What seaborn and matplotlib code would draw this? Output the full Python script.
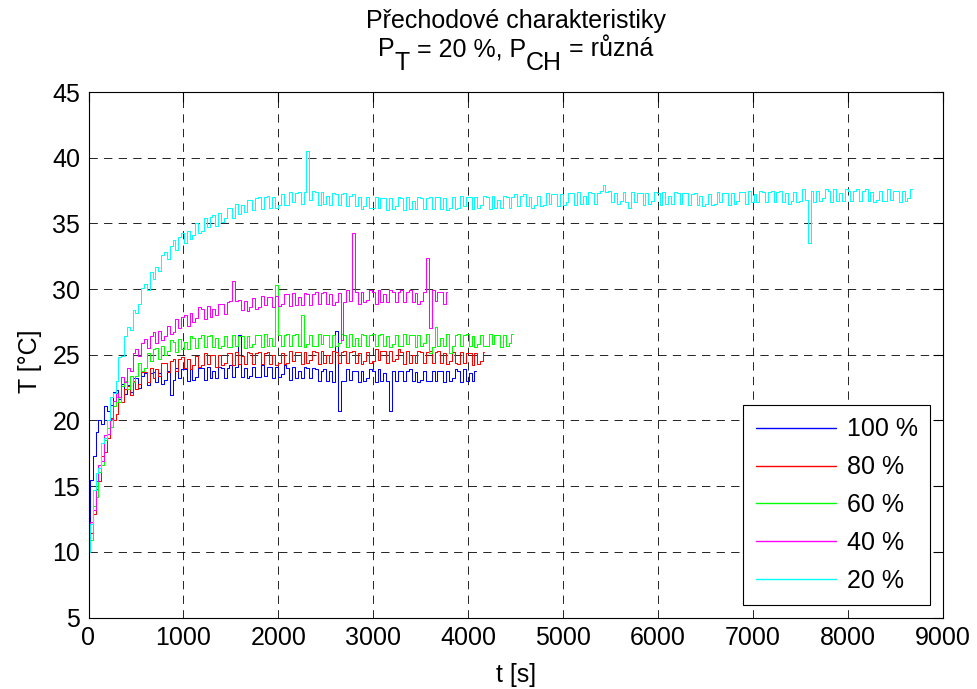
import numpy as np
import pandas as pd
import matplotlib
matplotlib.use("Agg")
import matplotlib.pyplot as plt
import seaborn as sns

# Sampling interval of the logged temperatures [s]
SAMPLE_STEP = 30

labels = ["100 %", "80 %", "60 %", "40 %", "20 %"]
colors = ["#0000ff", "#ff0000", "#00ff00", "#ff00ff", "#00ffff"]

# Logged temperature [°C] for each cooler power setting
temp_100 = [
    10.0, 15.5, 17.3, 19.1, 20.0, 19.7, 21.1, 20.7, 21.2, 22.2,
    22.3, 21.6, 22.8, 22.0, 22.7, 22.2, 23.2, 23.2, 22.5, 23.4,
    23.6, 22.7, 23.6, 23.7, 22.9, 23.6, 22.8, 23.1, 23.8, 21.9,
    23.1, 24.0, 23.2, 23.9, 23.9, 23.0, 23.9, 23.1, 23.3, 24.0,
    24.0, 23.1, 24.1, 23.2, 23.8, 23.2, 24.1, 24.0, 23.2, 24.0,
    24.2, 23.3, 24.1, 26.5, 23.3, 24.0, 23.2, 23.4, 24.1, 23.3,
    23.3, 24.2, 23.4, 24.1, 24.1, 23.2, 24.1, 23.3, 23.5, 24.2,
    24.0, 23.1, 24.1, 23.2, 23.8, 23.2, 24.1, 24.0, 23.2, 24.0,
    23.9, 23.0, 23.8, 23.9, 23.0, 23.8, 22.9, 26.8, 20.7, 23.0,
    23.0, 23.9, 23.1, 23.8, 23.8, 22.9, 23.8, 23.0, 23.2, 23.9,
    23.8, 22.9, 23.9, 23.0, 23.6, 23.0, 20.7, 23.8, 23.0, 23.8,
    23.8, 23.0, 23.8, 23.9, 23.0, 23.7, 22.9, 23.1, 23.8, 23.0,
    23.0, 23.8, 23.0, 23.8, 23.8, 22.9, 23.8, 23.0, 23.2, 23.9,
    23.8, 22.9, 23.9, 23.0, 23.6, 23.0, 23.8,
]
temp_80 = [
    10.0, 11.4, 12.9, 14.8, 15.4, 17.3, 17.6, 18.7, 20.2, 20.0,
    20.5, 21.8, 21.4, 22.4, 22.6, 21.9, 23.0, 22.4, 22.8, 23.7,
    23.7, 22.9, 24.0, 23.2, 23.9, 23.4, 24.4, 24.4, 23.7, 24.5,
    24.7, 23.8, 24.7, 24.8, 24.0, 24.7, 23.9, 24.2, 24.9, 24.1,
    24.2, 25.1, 24.3, 25.0, 25.0, 24.1, 25.0, 24.2, 24.4, 25.1,
    25.1, 24.2, 25.2, 24.3, 24.9, 24.3, 25.2, 25.1, 24.3, 25.1,
    25.2, 24.3, 25.1, 25.2, 24.3, 25.0, 24.2, 24.4, 25.1, 24.3,
    24.4, 25.3, 24.5, 25.2, 25.2, 24.3, 25.2, 24.4, 24.6, 25.3,
    25.2, 24.3, 25.3, 24.4, 25.0, 24.4, 25.3, 25.2, 24.4, 25.2,
    25.3, 24.4, 25.2, 25.3, 24.4, 25.1, 24.3, 24.5, 25.2, 24.4,
    24.5, 25.4, 24.6, 25.3, 25.3, 24.4, 25.3, 24.5, 24.7, 25.4,
    25.2, 24.3, 25.3, 24.4, 25.0, 24.4, 25.3, 25.2, 24.4, 25.2,
    25.3, 24.4, 25.2, 25.3, 24.4, 25.1, 24.3, 24.5, 25.2, 24.4,
    24.3, 25.2, 24.4, 25.1, 25.1, 24.2, 25.1, 24.3, 24.5, 25.2,
]
temp_60 = [
    10.0, 10.9, 13.5, 14.2, 16.1, 16.6, 18.5, 19.4, 19.5, 21.1,
    21.8, 21.4, 22.6, 23.0, 22.4, 23.4, 22.9, 23.4, 24.4, 23.8,
    24.0, 25.1, 24.5, 25.4, 25.5, 24.7, 25.7, 25.0, 25.3, 26.1,
    26.0, 25.2, 26.2, 25.4, 26.0, 25.4, 26.4, 26.3, 25.5, 26.3,
    26.5, 25.6, 26.4, 26.5, 25.6, 26.3, 25.5, 25.7, 26.4, 25.6,
    25.6, 26.5, 25.7, 26.4, 26.4, 25.5, 26.4, 25.6, 25.8, 26.5,
    26.5, 25.6, 26.6, 25.7, 26.3, 25.7, 30.3, 26.5, 25.7, 26.5,
    26.6, 25.7, 26.5, 26.6, 25.7, 28.0, 25.6, 25.8, 26.5, 25.7,
    25.7, 26.6, 25.8, 26.5, 26.5, 25.6, 26.5, 25.7, 25.9, 26.6,
    26.5, 25.6, 26.6, 25.7, 26.3, 25.7, 26.6, 26.5, 25.7, 26.5,
    26.6, 25.7, 26.5, 26.6, 25.7, 26.4, 25.6, 25.8, 26.5, 25.7,
    25.7, 26.6, 25.8, 26.5, 26.5, 25.6, 26.5, 25.7, 25.9, 26.6,
    25.1, 25.6, 27.1, 25.7, 26.3, 25.7, 26.6, 25.1, 25.7, 26.5,
    26.6, 25.7, 26.5, 26.6, 25.7, 26.4, 25.6, 25.8, 26.5, 25.7,
    25.7, 26.6, 25.8, 26.5, 26.5, 25.6, 26.5, 25.7, 25.9, 26.6,
]
temp_40 = [
    10.0, 12.3, 13.2, 15.4, 16.6, 16.9, 18.9, 19.0, 20.1, 21.5,
    22.1, 21.8, 23.3, 22.9, 24.0, 23.8, 25.1, 25.4, 24.9, 25.9,
    26.2, 25.5, 26.4, 26.7, 25.9, 26.8, 26.1, 26.4, 27.2, 26.6,
    26.7, 27.7, 27.0, 27.9, 28.0, 27.2, 28.2, 27.5, 27.8, 28.6,
    28.5, 27.7, 28.7, 27.9, 28.5, 28.0, 28.9, 28.9, 28.1, 29.0,
    29.1, 30.6, 29.1, 29.2, 28.4, 29.1, 28.3, 28.6, 29.3, 28.5,
    28.6, 29.5, 28.8, 29.4, 29.4, 28.6, 29.5, 28.7, 28.9, 29.6,
    29.6, 28.7, 29.7, 28.8, 29.4, 28.8, 29.7, 29.6, 28.8, 29.6,
    29.8, 28.9, 29.7, 29.8, 28.9, 29.6, 28.8, 29.0, 29.7, 26.1,
    29.0, 29.9, 29.1, 34.3, 29.8, 28.9, 29.8, 29.0, 29.2, 29.9,
    29.8, 28.9, 29.9, 29.0, 29.6, 29.0, 29.9, 29.8, 29.0, 29.8,
    29.9, 29.0, 29.8, 29.9, 29.0, 29.7, 28.9, 29.1, 29.8, 32.4,
    27.0, 29.9, 29.1, 29.8, 29.8, 28.9, 29.8,
]
temp_20 = [
    10.0, 12.1, 14.7, 16.0, 16.4, 18.3, 18.7, 20.0, 21.8, 22.1,
    23.0, 24.8, 24.9, 26.4, 27.1, 26.9, 28.4, 28.2, 28.9, 30.1,
    30.4, 29.9, 31.3, 30.8, 31.7, 31.4, 32.6, 32.8, 32.3, 33.3,
    33.7, 33.0, 34.0, 34.3, 33.5, 34.4, 33.8, 34.1, 35.0, 34.3,
    34.4, 35.4, 34.7, 35.5, 35.6, 34.8, 35.8, 35.1, 35.4, 36.2,
    36.2, 35.4, 36.5, 35.7, 36.4, 35.9, 36.8, 36.8, 36.0, 36.9,
    37.0, 36.1, 37.0, 37.1, 36.2, 37.0, 36.2, 36.4, 37.2, 36.4,
    36.4, 37.4, 36.6, 37.3, 37.4, 36.5, 37.4, 40.5, 36.8, 37.5,
    37.4, 36.4, 37.4, 36.5, 37.1, 36.4, 37.3, 37.2, 36.4, 37.2,
    37.3, 36.3, 37.1, 37.2, 36.3, 37.0, 36.1, 36.3, 37.0, 36.2,
    36.2, 37.0, 36.2, 36.9, 36.9, 36.0, 36.9, 36.1, 36.3, 37.0,
    36.9, 36.0, 37.0, 36.1, 36.7, 36.1, 37.0, 36.9, 36.1, 36.9,
    37.0, 36.1, 37.0, 37.0, 36.1, 36.9, 36.0, 36.2, 37.0, 36.1,
    36.2, 37.1, 36.3, 37.0, 37.0, 36.1, 37.0, 36.2, 36.4, 37.1,
    37.0, 36.1, 37.1, 36.2, 36.8, 36.2, 37.1, 37.0, 36.2, 37.0,
    37.2, 36.3, 37.1, 37.2, 36.3, 37.0, 36.2, 36.4, 37.1, 36.3,
    36.4, 37.3, 36.5, 37.2, 37.2, 36.3, 37.2, 36.4, 36.6, 37.3,
    37.3, 36.4, 37.4, 36.5, 37.1, 36.5, 37.4, 37.3, 36.5, 37.3,
    37.5, 37.9, 37.4, 37.5, 36.6, 37.3, 36.5, 36.7, 37.4, 36.6,
    36.2, 37.4, 36.6, 37.3, 37.3, 36.4, 37.3, 36.5, 36.7, 37.4,
    37.3, 36.4, 37.4, 36.5, 37.1, 36.5, 37.4, 37.3, 36.5, 37.3,
    37.3, 36.4, 37.2, 37.3, 36.4, 37.1, 36.3, 36.5, 37.2, 36.4,
    36.5, 37.4, 36.6, 37.3, 37.3, 36.4, 37.3, 36.5, 36.7, 37.4,
    37.4, 36.5, 37.5, 36.6, 37.2, 36.6, 37.5, 37.4, 36.6, 37.4,
    37.5, 36.6, 37.4, 37.5, 36.6, 37.3, 36.5, 36.7, 37.4, 36.6,
    36.7, 37.6, 36.8, 33.5, 37.5, 36.6, 37.5, 36.7, 36.9, 37.6,
    37.5, 36.6, 37.6, 36.7, 37.3, 36.7, 37.6, 37.5, 36.7, 37.5,
    37.6, 36.7, 37.5, 37.6, 36.7, 37.4, 36.6, 36.8, 37.5, 36.7,
    36.7, 37.6, 36.8, 37.5, 37.5, 36.6, 37.5, 36.7, 36.9, 37.6,
]

x_ticks = [0, 1000, 2000, 3000, 4000, 5000, 6000, 7000, 8000, 9000]
y_ticks = [5, 10, 15, 20, 25, 30, 35, 40, 45]

title_line1 = "Přechodové charakteristiky"
# second title line: (text, is_subscript)
title_line2 = [("P", False), ("T", True), (" = 20 %, P", False),
               ("CH", True), (" = různá", False)]

series = [temp_100, temp_80, temp_60, temp_40, temp_20]
frames = []
for lab, vals in zip(labels, series):
    frames.append(pd.DataFrame({
        "t": np.arange(len(vals)) * SAMPLE_STEP,
        "T": vals,
        "P": lab,
    }))
df = pd.concat(frames, ignore_index=True)

sns.set_style("white")
plt.rcParams["font.family"] = ["Liberation Sans", "DejaVu Sans"]
plt.rcParams["lines.scale_dashes"] = False
plt.rcParams["text.color"] = "black"
plt.rcParams["axes.labelcolor"] = "black"
plt.rcParams["xtick.color"] = "black"
plt.rcParams["ytick.color"] = "black"
FS = 18
W, H = 978, 689

fig = plt.figure(figsize=(W / 100, H / 100), dpi=100)
ax = fig.add_axes([88.5 / W, 1 - 617.5 / H, (943 - 88.5) / W, (617.5 - 92) / H])

sns.lineplot(data=df, x="t", y="T", hue="P", hue_order=labels,
             palette=colors, estimator=None, drawstyle="steps-mid",
             linewidth=0.75, ax=ax)

ax.set_xlim(0, 9000)
ax.set_ylim(5, 45)
ax.set_xticks(x_ticks)
ax.set_yticks(y_ticks)
ax.tick_params(direction="in", length=7, width=0.8, labelsize=FS,
               top=True, right=True, pad=6, colors="black",
               labelcolor="black")
ax.grid(True, color="black", linewidth=0.6, linestyle=(0, (6, 4.5)))
for sp in ax.spines.values():
    sp.set_visible(True)
    sp.set_color("black")
    sp.set_linewidth(0.8)

ax.set_xlabel("t [s]", fontsize=FS, labelpad=9.5, color="black")
ax.set_ylabel("T [°C]", fontsize=FS, color="black")
ax.yaxis.set_label_coords(-0.054, 0.488)

# Title: first line centred, second line assembled piece by piece so the
# subscripts keep full size and sit below the baseline
cx_px = (88.5 + 943) / 2
fig.text(cx_px / W, 1 - 28 / H, title_line1, ha="center", va="baseline",
         fontsize=FS, color="black")
renderer = fig.canvas.get_renderer()
pieces = []
total = 0.0
for txt, sub in title_line2:
    t_obj = fig.text(0, 0, txt, fontsize=FS, va="baseline", ha="left",
                     color="black")
    w = t_obj.get_window_extent(renderer).width
    pieces.append((t_obj, w, sub))
    total += w
x_px = cx_px - total / 2
base_px = 56.5
for t_obj, w, sub in pieces:
    y_px = base_px + (14 if sub else 0)
    t_obj.set_position((x_px / W, 1 - y_px / H))
    x_px += w

handles, leg_labels = ax.get_legend_handles_labels()
leg = ax.legend(handles, leg_labels, loc="lower right", fontsize=FS,
                frameon=True, fancybox=False, framealpha=1,
                edgecolor="black", handlelength=3.2, handletextpad=0.45,
                labelspacing=0.55, borderaxespad=0.5, borderpad=0.5)
leg.get_frame().set_linewidth(0.8)
for ln in leg.get_lines():
    ln.set_linewidth(1.0)
for txt in leg.get_texts():
    txt.set_color("black")

fig.savefig("out.png", dpi=100)
